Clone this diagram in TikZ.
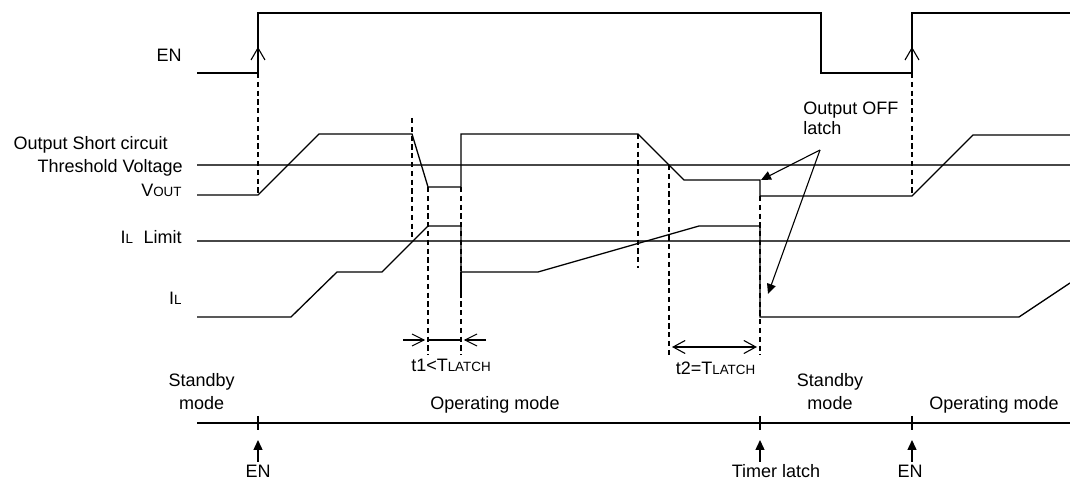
\documentclass[tikz,border=0pt]{standalone}
\usepackage{fontspec}
\setmainfont{Liberation Sans}
\usetikzlibrary{arrows.meta}
\newcommand{\smc}[1]{{\fontsize{6.7}{7}\selectfont #1}}
\begin{document}
\begin{tikzpicture}[x=0.5pt,y=-0.5pt,
  sig/.style={line width=0.65pt, line join=miter},
  refline/.style={line width=0.9pt, draw=black!72},
  guide/.style={line width=0.6pt, dash pattern=on 2.6pt off 1.8pt},
  thin/.style={line width=0.55pt},
  lbl/.style={inner sep=0pt, font=\fontsize{9}{10.8}\selectfont},
  dblhead/.style={{Straight Barb[length=6pt,width=6.5pt,line width=0.55pt]}-{Straight Barb[length=6pt,width=6.5pt,line width=0.55pt]}, line width=0.55pt},
  fillhead/.style={-{Triangle[length=5pt,width=4.5pt]}, line width=0.55pt},
  uphead/.style={-{Triangle[length=5pt,width=4.5pt]}, line width=0.7pt}]
\useasboundingbox (0,0) rectangle (1070,485);

% reference lines
\draw[refline] (197,165) -- (1070,165);
\draw[refline] (197,241) -- (1070,241);

% EN signal
\draw[sig] (197,73) -- (258,73) -- (258,13) -- (821,13) -- (821,73) -- (912,73) -- (912,13) -- (1070,13);
\draw[thin] (251,60) -- (258,48) -- (265,60);
\draw[thin] (905,60) -- (912,48) -- (919,60);

% VOUT
\draw[sig] (197,195) -- (258,195) -- (319,134) -- (412,134) -- (428,187) -- (461,187) -- (461,134) -- (638,134) -- (684,180) -- (760,180) -- (760,196) -- (912,196) -- (973,135) -- (1070,135);

% IL
\draw[sig] (197,317) -- (291,317) -- (337,272) -- (382,272) -- (428,226) -- (461,226) -- (461,272) -- (538,272) -- (699,226) -- (760,226) -- (760,317) -- (1019,317) -- (1070,283);
\draw[sig] (461,272) -- (461,297);

% dashed guides
\draw[guide] (258,73) -- (258,195);
\draw[guide] (412,118) -- (412,237);
\draw[guide] (428,187) -- (428,355);
\draw[guide] (461,187) -- (461,355);
\draw[guide] (638,134) -- (638,268);
\draw[guide] (669,165) -- (669,355);
\draw[guide] (760,196) -- (760,355);
\draw[guide] (912,73) -- (912,196);

% t1 marker
\draw[thin] (403,340) -- (424,340);
\draw[thin] (412,334) -- (424,340) -- (412,346);
\draw[thin] (428,340) -- (461,340);
\draw[thin] (486,340) -- (465,340);
\draw[thin] (477,334) -- (465,340) -- (477,346);
\node[lbl, anchor=base] (t1) at (451,372) {t1<T\smc{LATCH}};

% t2 marker
\draw[dblhead] (672,347) -- (757,347);
\node[lbl, anchor=base] (t2) at (715.5,375) {t2=T\smc{LATCH}};

% Output OFF latch
\node[lbl, anchor=base west] (off1) at (803,115) {Output OFF};
\node[lbl, anchor=base west] (off2) at (803,135) {latch};
\coordinate (offsrc) at (820,150);
\coordinate (offa) at (761,180);
\coordinate (offb) at (768,294);
\draw[fillhead] (offsrc) -- (offa);
\draw[fillhead] (offsrc) -- (offb);

% left labels
\node[lbl, anchor=base east] (lEN) at (182,61.7) {EN};
\node[lbl, anchor=base east] (lOSC) at (168,150) {Output Short circuit};
\node[lbl, anchor=base east] (lTV) at (183,172.7) {Threshold Voltage};
\node[lbl, anchor=base east] (lVO) at (182,196.7) {V\smc{OUT}};
\node[lbl, anchor=base east] (lIL) at (182,244) {I\smc{L}\hspace{5.3pt}Limit};
\node[lbl, anchor=base east] (lI) at (182,305) {I\smc{L}};

% mode timeline
\draw[line width=0.65pt] (197,423) -- (1070,423);
\foreach \x in {258,760,912} {
  \draw[thin] (\x,416) -- (\x,430);
  \draw[uphead] (\x,462) -- (\x,440);
}
\node[lbl, anchor=base] (sb1a) at (201.7,386.7) {Standby};
\node[lbl, anchor=base] (sb1b) at (201.7,410) {mode};
\node[lbl, anchor=base] (op1) at (495,410) {Operating mode};
\node[lbl, anchor=base] (sb2a) at (830,386.7) {Standby};
\node[lbl, anchor=base] (sb2b) at (830,410) {mode};
\node[lbl, anchor=base] (op2) at (994,410) {Operating mode};
\node[lbl, anchor=base] (bEN1) at (258,478) {EN};
\node[lbl, anchor=base] (bTL) at (776,478) {Timer latch};
\node[lbl, anchor=base] (bEN2) at (910,478) {EN};
\end{tikzpicture}
\end{document}
